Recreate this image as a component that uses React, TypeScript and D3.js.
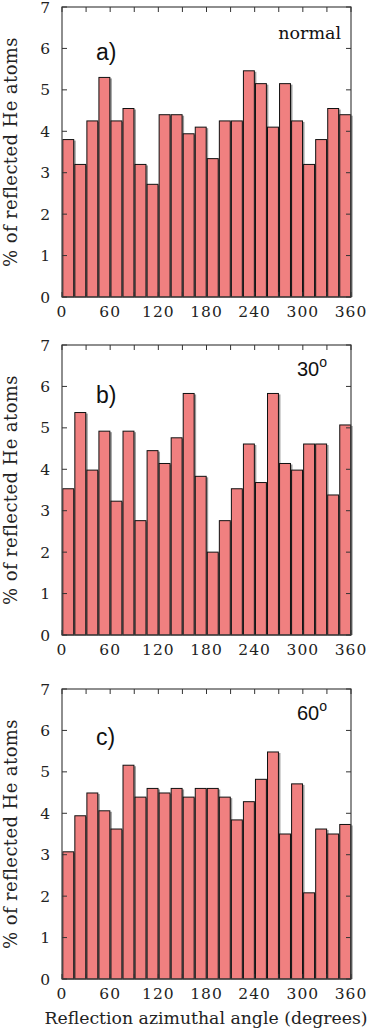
import React, { useEffect, useRef } from 'react';
import * as d3 from 'd3';

// azimuthal bins of 15 degrees, left edge of each bar
const angles = d3.range(0, 360, 15);

const normalValues = [3.8, 3.2, 4.25, 5.3, 4.25, 4.55, 3.2, 2.72, 4.4, 4.4, 3.94, 4.1,
  3.34, 4.25, 4.25, 5.46, 5.15, 4.1, 5.15, 4.25, 3.2, 3.8, 4.55, 4.4];
const deg30Values = [3.53, 5.37, 3.98, 4.92, 3.23, 4.92, 2.76, 4.45, 4.14, 4.76, 5.83, 3.83,
  2.0, 2.76, 3.53, 4.61, 3.68, 5.83, 4.14, 3.98, 4.61, 4.61, 3.38, 5.07];
const deg60Values = [3.07, 3.94, 4.49, 4.06, 3.62, 5.16, 4.39, 4.6, 4.49, 4.6, 4.39, 4.6,
  4.6, 4.39, 3.84, 4.28, 4.82, 5.48, 3.5, 4.71, 2.08, 3.62, 3.5, 3.73];

const yTicks = [0, 1, 2, 3, 4, 5, 6, 7];
const xTicks = [0, 60, 120, 180, 240, 300, 360];
const xMinorTicks = d3.range(0, 361, 30);

const panels = [
  { values: normalValues, letter: 'a)', angle: 'normal', top: 7, letterDy: 53 },
  { values: deg30Values, letter: 'b)', angle: '30', top: 345, letterDy: 58 },
  { values: deg60Values, letter: 'c)', angle: '60', top: 689, letterDy: 56 },
];

const App = () => {
  const ref = useRef<SVGSVGElement>(null);

  useEffect(() => {
    const svg = d3.select(ref.current);
    svg.selectAll('*').remove();

    const left = 62;
    const right = 351;
    const plotH = 290;
    const serif = '"DejaVu Serif", serif';
    const sans = '"Liberation Sans", Arial, sans-serif';

    const x = d3.scaleLinear().domain([0, 360]).range([left, right]);

    panels.forEach(p => {
      const y = d3.scaleLinear().domain([0, 7]).range([p.top + plotH, p.top]);
      const g = svg.append('g');
      const barW = x(13.6) - x(0);

      // grey drop shadow first, then the bar itself
      g.selectAll('rect.shadow')
        .data(p.values)
        .enter()
        .append('rect')
        .attr('x', (d, i) => x(angles[i]) + 0.8 + 2)
        .attr('y', d => y(d) + 1)
        .attr('width', barW)
        .attr('height', d => y(0) - y(d) - 1)
        .attr('fill', '#9a9a9a');

      g.selectAll('rect.bar')
        .data(p.values)
        .enter()
        .append('rect')
        .attr('x', (d, i) => x(angles[i]) + 0.8)
        .attr('y', d => y(d))
        .attr('width', barW)
        .attr('height', d => y(0) - y(d))
        .attr('fill', '#f08080')
        .attr('stroke', '#111')
        .attr('stroke-width', 1);

      // frame
      g.append('rect')
        .attr('x', left)
        .attr('y', p.top)
        .attr('width', right - left)
        .attr('height', plotH)
        .attr('fill', 'none')
        .attr('stroke', '#444')
        .attr('stroke-width', 1.2);

      // inward ticks
      yTicks.forEach(t => {
        g.append('line').attr('x1', left).attr('x2', left + 5).attr('y1', y(t)).attr('y2', y(t)).attr('stroke', '#333');
        g.append('line').attr('x1', right).attr('x2', right - 5).attr('y1', y(t)).attr('y2', y(t)).attr('stroke', '#333');
      });
      xMinorTicks.forEach(t => {
        g.append('line').attr('x1', x(t)).attr('x2', x(t)).attr('y1', p.top).attr('y2', p.top + 5).attr('stroke', '#333');
        g.append('line').attr('x1', x(t)).attr('x2', x(t)).attr('y1', p.top + plotH).attr('y2', p.top + plotH - 5).attr('stroke', '#333');
      });

      g.selectAll('text.ytick')
        .data(yTicks)
        .enter()
        .append('text')
        .attr('x', 50)
        .attr('y', d => y(d))
        .attr('dy', '0.36em')
        .attr('text-anchor', 'end')
        .style('font-family', serif)
        .style('font-size', '15.5px')
        .attr('fill', '#222')
        .text(d => d);

      g.selectAll('text.xtick')
        .data(xTicks)
        .enter()
        .append('text')
        .attr('x', d => x(d))
        .attr('y', p.top + plotH + 20)
        .attr('text-anchor', 'middle')
        .style('font-family', serif)
        .style('font-size', '15.5px')
        .style('letter-spacing', '1px')
        .attr('fill', '#222')
        .text(d => d);

      g.append('text')
        .attr('transform', `translate(17,${p.top + plotH / 2}) rotate(-90)`)
        .attr('text-anchor', 'middle')
        .style('font-family', serif)
        .style('font-size', '18px')
        .style('letter-spacing', '0.4px')
        .attr('fill', '#222')
        .text('% of reflected He atoms');

      g.append('text')
        .attr('x', 96)
        .attr('y', p.top + p.letterDy)
        .style('font-family', sans)
        .style('font-size', '23px')
        .attr('fill', '#111')
        .text(p.letter);

      if (p.angle === 'normal') {
        g.append('text')
          .attr('x', 341)
          .attr('y', p.top + 32)
          .attr('text-anchor', 'end')
          .style('font-family', serif)
          .style('font-size', '17.5px')
          .attr('fill', '#111')
          .text('normal');
      } else {
        const t = g.append('text')
          .attr('x', 297)
          .attr('y', p.top + 31)
          .style('font-family', sans)
          .style('font-size', '20px')
          .attr('fill', '#111');
        t.append('tspan').text(p.angle);
        t.append('tspan').attr('dy', -9).style('font-size', '14px').text('o');
      }
    });

    svg.append('text')
      .attr('x', 206)
      .attr('y', 1024)
      .attr('text-anchor', 'middle')
      .style('font-family', serif)
      .style('font-size', '17.3px')
      .attr('fill', '#222')
      .text('Reflection azimuthal angle (degrees)');
  }, []);

  return (
    <svg ref={ref} width={382} height={1032}
      style={{ position: 'absolute', left: 0, top: 0, background: '#fff' }} />
  );
};

export default App;
